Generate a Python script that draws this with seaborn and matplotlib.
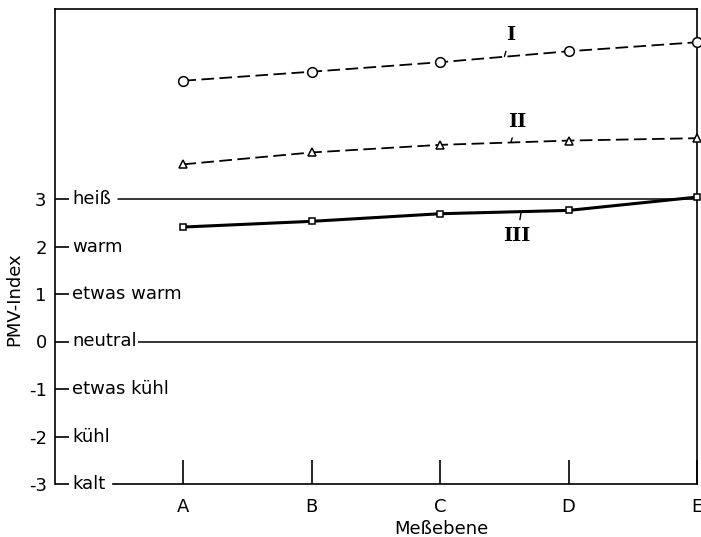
import numpy as np
import pandas as pd
import matplotlib
matplotlib.use("Agg")
import matplotlib.pyplot as plt
import matplotlib.transforms as mtransforms
import seaborn as sns

# Daten
ebenen = ["A", "B", "C", "D", "E"]
kurve_1 = [5.49, 5.68, 5.88, 6.11, 6.30]
kurve_2 = [3.73, 3.98, 4.14, 4.23, 4.28]
kurve_3 = [2.41, 2.53, 2.69, 2.76, 3.04]
pmv_ticks = [-3, -2, -1, 0, 1, 2, 3]
pmv_namen = ["kalt", "kühl", "etwas kühl", "neutral", "etwas warm", "warm", "heiß"]

sns.set_style("white")
plt.rcParams["font.family"] = ["DejaVu Sans"]
plt.rcParams["text.color"] = "black"
plt.rcParams["axes.labelcolor"] = "black"
plt.rcParams["xtick.color"] = "black"
plt.rcParams["ytick.color"] = "black"

fig = plt.figure(figsize=(7.01, 5.37), dpi=100)
ax = fig.add_axes([55 / 701, 53 / 537, 642 / 701, 475 / 537])

stile = [
    (kurve_1, "o", (0, (7, 3)), 1.3, 7),
    (kurve_2, "^", (0, (7, 3)), 1.3, 6),
    (kurve_3, "s", "-", 2.2, 5),
]
for werte, m, ls, lw, ms in stile:
    df = pd.DataFrame({"Meßebene": ebenen, "PMV": werte})
    sns.lineplot(data=df, x="Meßebene", y="PMV", ax=ax, color="black",
                 marker=m, markersize=ms, markerfacecolor="white",
                 markeredgecolor="black", markeredgewidth=1.1,
                 linestyle=ls, linewidth=lw, clip_on=False, zorder=5)

ax.set_xlim(-1, 4)
ax.set_ylim(-3, 7)

# Rahmen
for s in ["left", "top", "right", "bottom"]:
    ax.spines[s].set_color("black")
    ax.spines[s].set_linewidth(1.2)
ax.spines["bottom"].set_bounds(-0.55, 4)

# Hilfslinien bei 3 und 0
ax.axhline(3, xmin=(118 - 55) / 642, xmax=1, color="black", lw=1.1)
ax.axhline(0, xmin=(138 - 55) / 642, xmax=1, color="black", lw=1.1)

# Achsen
ax.set_yticks(pmv_ticks)
ax.set_yticklabels([str(t) for t in pmv_ticks])
ax.tick_params(axis="y", direction="in", length=10, width=1.2, pad=6,
               labelsize=13, left=True, right=False, colors="black")
ax.set_xticks(range(len(ebenen)))
ax.set_xticklabels(ebenen)
ax.tick_params(axis="x", direction="in", length=17, width=1.2, pad=10,
               labelsize=13, bottom=True, top=False, colors="black")

trans = mtransforms.blended_transform_factory(ax.transAxes, ax.transData)
for t, name in zip(pmv_ticks, pmv_namen):
    ax.text(17 / 642, t, name, transform=trans, va="center", ha="left",
            fontsize=13, color="black",
            bbox=dict(facecolor="white", edgecolor="none", pad=1))

ax.set_xlabel("Meßebene", fontsize=13, color="black")
ax.xaxis.set_label_coords((441 - 55) / 642, -0.075)
ax.set_ylabel("PMV-Index", fontsize=13, color="black")
ax.yaxis.set_label_coords(-0.05, 0.39)

# Kurvenbezeichnungen
for txt, xt, yt, xp, yp in [("I", 2.55, 6.45, 2.5, 6.0),
                            ("II", 2.6, 4.63, 2.55, 4.19),
                            ("III", 2.6, 2.22, 2.63, 2.72)]:
    ax.annotate(txt, xy=(xp, yp), xytext=(xt, yt), ha="center", va="center",
                fontsize=14, fontweight="bold", family="DejaVu Serif",
                color="black",
                arrowprops=dict(arrowstyle="-", color="black", lw=1.0,
                                shrinkA=3, shrinkB=0))

fig.savefig("out.png", dpi=100)
